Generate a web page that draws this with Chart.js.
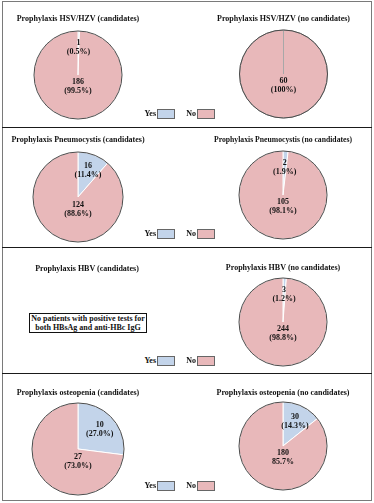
<!DOCTYPE html>
<html>
<head>
<meta charset="utf-8">
<script src="https://cdn.jsdelivr.net/npm/chart.js@4.4.0/dist/chart.umd.min.js"></script>
<style>
    body { margin: 0; width: 374px; height: 503px; background: #fff; position: relative; overflow: hidden;
           font-family: "Liberation Serif", "Times New Roman", serif; }
    .frame { position: absolute; left: 2px; top: 1px; width: 368px; height: 498px; border: 1px solid #7a7a7a; }
    .sep { position: absolute; left: 2px; width: 370px; height: 1px; background: #1a1a1a; }
    canvas.pie { position: absolute; }
    .lg { position: absolute; font-size: 8px; font-weight: bold; color: #111; line-height: 9px; }
    .box { position: absolute; width: 16px; height: 8px; border: 1px solid #666; }
    .note { position: absolute; left: 29px; top: 313px; width: 116px; height: 18px; border: 1px solid #111;
            font-size: 8px; font-weight: bold; line-height: 9px; text-align: center; color: #111; }
</style>
</head>
<body>
<div class="frame"></div>
<div class="sep" style="top:127px"></div>
<div class="sep" style="top:247px"></div>
<div class="sep" style="top:373px"></div>
<div class="note">No patients with positive tests for<br>both HBsAg and anti-HBc IgG</div>

<script>
// data
const categories = ['Yes', 'No'];
const sliceColors = ['#c3d4ea', '#e8b8ba'];

const hsvCand = [1, 186];
const hsvCandPct = ['(0.5%)', '(99.5%)'];
const hsvNoCand = [0, 60];
const hsvNoCandPct = ['', '(100%)'];

const pcpCand = [16, 124];
const pcpCandPct = ['(11.4%)', '(88.6%)'];
const pcpNoCand = [2, 105];
const pcpNoCandPct = ['(1.9%)', '(98.1%)'];

const hbvNoCand = [3, 244];
const hbvNoCandPct = ['(1.2%)', '(98.8%)'];

const osteoCand = [10, 27];
const osteoCandPct = ['(27.0%)', '(73.0%)'];
const osteoNoCand = [30, 180];
const osteoNoCandPct = ['(14.3%)', '85.7%'];

// count + percent inside each slice, and the dark outline round the pie
const sliceLabels = {
    id: 'sliceLabels',
    afterDatasetsDraw(chart) {
        const ctx = chart.ctx;
        const meta = chart.getDatasetMeta(0);
        const ds = chart.data.datasets[0];
        const total = ds.data.reduce((a, b) => a + b, 0);
        const a0 = meta.data[0];
        ctx.save();
        ctx.beginPath();
        ctx.arc(a0.x, a0.y, a0.outerRadius, 0, Math.PI * 2);
        ctx.strokeStyle = '#4a4a4a';
        ctx.lineWidth = 1;
        ctx.stroke();

        ctx.font = 'bold 8px "Liberation Serif"';
        ctx.fillStyle = '#111';
        ctx.textAlign = 'center';
        ctx.textBaseline = 'middle';
        meta.data.forEach((arc, i) => {
            const v = ds.data[i];
            if (!v) return;
            let x, y;
            if (v / total > 0.5) {
                x = arc.x;
                y = arc.y + arc.outerRadius * 0.27;
            } else {
                const mid = (arc.startAngle + arc.endAngle) / 2;
                const d = arc.outerRadius * 0.63;
                x = arc.x + Math.cos(mid) * d;
                y = arc.y + Math.sin(mid) * d;
            }
            ctx.fillText(String(v), x, y - 4.5);
            ctx.fillText(ds.pct[i], x, y + 4.5);
        });
        ctx.restore();
    }
};

function makePie(p) {
    const W = 160;
    const left = p.titleCx - W / 2;
    const titlePadTop = p.titleY - p.top - 4.8;
    const areaTop = titlePadTop + 9.6;
    const H = Math.round((p.cy - p.top) * 2 + 10);
    const padBottom = areaTop + H - 2 * (p.cy - p.top);
    const dx = 2 * (p.cx - left) - W;

    const cv = document.createElement('canvas');
    cv.className = 'pie';
    cv.width = W;
    cv.height = H;
    cv.style.left = left + 'px';
    cv.style.top = p.top + 'px';
    document.body.appendChild(cv);

    new Chart(cv.getContext('2d'), {
        type: 'pie',
        data: {
            labels: categories,
            datasets: [{
                data: p.values,
                pct: p.pct,
                backgroundColor: sliceColors,
                borderColor: p.sepColor || '#ffffff',
                borderWidth: c => (c.raw === 0 ? 0 : 1),
                clip: false
            }]
        },
        options: {
            responsive: false,
            animation: false,
            events: [],
            radius: p.r,
            layout: { padding: { top: 0, bottom: padBottom, left: Math.max(0, dx), right: Math.max(0, -dx) } },
            plugins: {
                legend: { display: false },
                tooltip: { enabled: false },
                title: {
                    display: true,
                    text: p.title,
                    color: '#111',
                    font: { family: '"Liberation Serif"', size: 8, weight: 'bold', lineHeight: 1.2 },
                    padding: { top: titlePadTop, bottom: 0 }
                }
            }
        },
        plugins: [sliceLabels]
    });
}

function makeLegend(y) {
    const parts = [
        ['Yes', 157, sliceColors[0]],
        ['No', 197, sliceColors[1]]
    ];
    parts.forEach(([txt, bx, col]) => {
        const t = document.createElement('div');
        t.className = 'lg';
        t.textContent = txt;
        t.style.right = (374 - bx + 1) + 'px';
        t.style.top = y + 'px';
        document.body.appendChild(t);
        const b = document.createElement('div');
        b.className = 'box';
        b.style.left = bx + 'px';
        b.style.top = y + 'px';
        b.style.background = col;
        document.body.appendChild(b);
    });
}

document.addEventListener('DOMContentLoaded', () => {
    makePie({ title: 'Prophylaxis HSV/HZV (candidates)', values: hsvCand, pct: hsvCandPct,
              cx: 78, cy: 75, r: 44, titleCx: 90, titleY: 19, top: 3 });
    makePie({ title: 'Prophylaxis HSV/HZV (no candidates)', values: hsvNoCand, pct: hsvNoCandPct,
              cx: 283.5, cy: 74, r: 44, titleCx: 295, titleY: 19, top: 3, sepColor: '#a8a8a8' });
    makeLegend(109);

    makePie({ title: 'Prophylaxis Pneumocystis (candidates)', values: pcpCand, pct: pcpCandPct,
              cx: 78, cy: 197, r: 45, titleCx: 89, titleY: 140, top: 128 });
    makePie({ title: 'Prophylaxis Pneumocystis (no candidates)', values: pcpNoCand, pct: pcpNoCandPct,
              cx: 283, cy: 195, r: 44, titleCx: 294, titleY: 140, top: 128 });
    makeLegend(229);

    // HBV candidates: no pie, only the note box
    const t = document.createElement('div');
    t.className = 'lg';
    t.textContent = 'Prophylaxis HBV (candidates)';
    t.style.left = '0px';
    t.style.width = '174px';
    t.style.textAlign = 'center';
    t.style.top = '264px';
    document.body.appendChild(t);
    makePie({ title: 'Prophylaxis HBV (no candidates)', values: hbvNoCand, pct: hbvNoCandPct,
              cx: 283, cy: 322, r: 44, titleCx: 289, titleY: 268, top: 248 });
    makeLegend(356);

    makePie({ title: 'Prophylaxis osteopenia (candidates)', values: osteoCand, pct: osteoCandPct,
              cx: 78, cy: 449, r: 46, titleCx: 87, titleY: 393, top: 374 });
    makePie({ title: 'Prophylaxis osteopenia (no candidates)', values: osteoNoCand, pct: osteoNoCandPct,
              cx: 283, cy: 446, r: 44, titleCx: 292, titleY: 393, top: 374 });
    makeLegend(481);
});
</script>
</body>
</html>
